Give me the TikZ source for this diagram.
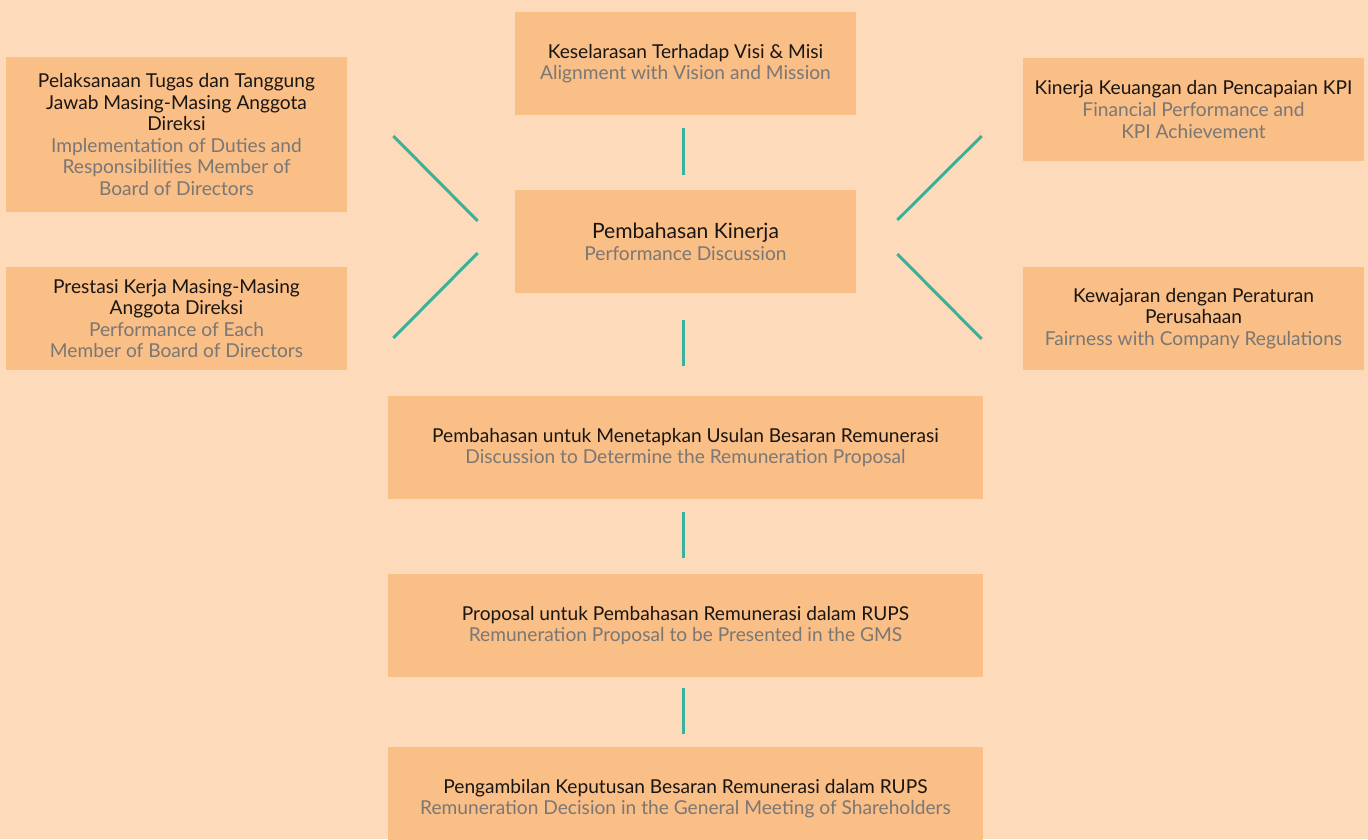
\documentclass[tikz,border=0pt]{standalone}
\usepackage{fontspec}
\setmainfont{Lato}
\usetikzlibrary{calc}
\definecolor{bgpeach}{RGB}{253,218,185}
\definecolor{boxpeach}{RGB}{250,190,135}
\definecolor{engray}{RGB}{122,119,116}
\definecolor{inktext}{RGB}{25,22,20}
\definecolor{linkteal}{RGB}{58,178,155}
\tikzset{
  stage/.style={fill=boxpeach,inner sep=0pt,minimum width=6.82cm,minimum height=2.06cm,
    align=center,text=inktext,font=\fontsize{10.9}{12.3}\selectfont},
  widestage/.style={stage,minimum width=11.9cm},
  link/.style={draw=linkteal,line width=1.7pt}
}
\newcommand{\engl}[1]{\textcolor{engray}{#1}}

\begin{document}
\begin{tikzpicture}[x=0.02cm,y=-0.02cm]
                \fill[bgpeach](0,0)rectangle(1368,839);
                \clip(0,0)rectangle(1368,839);
                \node[stage](visi)at(685.5,63.5){Keselarasan Terhadap Visi \& Misi\\\engl{Alignment with Vision and Mission}};
                \node[stage](kinerja)at(685.5,241.5){\fontsize{12}{14}\selectfont Pembahasan Kinerja\\\engl{Performance Discussion}};
                \node[stage,minimum height=3.1cm](tugas)at(176.5,134.5){Pelaksanaan Tugas dan Tanggung\\Jawab Masing-Masing Anggota\\Direksi\\\engl{Implementation of Duties and}\\\engl{Responsibilities Member of}\\\engl{Board of Directors}};
                \node[stage](prestasi)at(176.5,318.5){Prestasi Kerja Masing-Masing\\Anggota Direksi\\\engl{Performance of Each}\\\engl{Member of Board of Directors}};
                \node[stage](keuangan)at(1193.5,109.5){Kinerja Keuangan dan Pencapaian KPI\\\engl{Financial Performance and}\\\engl{KPI Achievement}};
                \node[stage](kewajaran)at(1193.5,318.5){Kewajaran dengan Peraturan\\Perusahaan\\\engl{Fairness with Company Regulations}};
                \node[widestage](usulan)at(685.5,447.5){Pembahasan untuk Menetapkan Usulan Besaran Remunerasi\\\engl{Discussion to Determine the Remuneration Proposal}};
                \node[widestage](proposal)at(685.5,625.5){Proposal untuk Pembahasan Remunerasi dalam RUPS\\\engl{Remuneration Proposal to be Presented in the GMS}};
                \node[widestage](keputusan)at(685.5,798.5){Pengambilan Keputusan Besaran Remunerasi dalam RUPS\\\engl{Remuneration Decision in the General Meeting of Shareholders}};
                \coordinate(tugasA)at($(tugas.east)+(46,1.5)$);
                \coordinate(tugasB)at($(kinerja.west)+(-37,-20.5)$);
                \coordinate(prestasiA)at($(prestasi.east)+(46,19.5)$);
                \coordinate(prestasiB)at($(kinerja.west)+(-37,11.5)$);
                \coordinate(keuanganA)at($(keuangan.west)+(-41,26.5)$);
                \coordinate(keuanganB)at($(kinerja.east)+(41,-21.5)$);
                \coordinate(kewajaranA)at($(kewajaran.west)+(-41,20.5)$);
                \coordinate(kewajaranB)at($(kinerja.east)+(41,12.5)$);
                \draw[link,shorten <=0.26cm,shorten >=0.30cm]($(visi.south)+(-2.5,0)$)--($(kinerja.north)+(-2.5,0)$);
                \draw[link,shorten <=0.54cm,shorten >=0.60cm]($(kinerja.south)+(-2.5,0)$)--($(usulan.north)+(-2.5,0)$);
                \draw[link,shorten <=0.26cm,shorten >=0.32cm]($(usulan.south)+(-2.5,0)$)--($(proposal.north)+(-2.5,0)$);
                \draw[link,shorten <=0.22cm,shorten >=0.26cm]($(proposal.south)+(-2.5,0)$)--($(keputusan.north)+(-2.5,0)$);
                \draw[link](tugasA)--(tugasB);
                \draw[link](prestasiA)--(prestasiB);
                \draw[link](keuanganA)--(keuanganB);
                \draw[link](kewajaranA)--(kewajaranB);
            \end{tikzpicture}
\end{document}
